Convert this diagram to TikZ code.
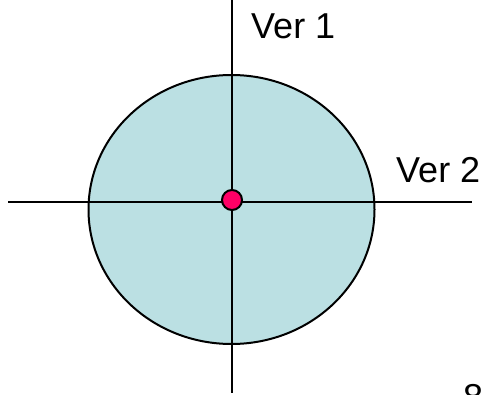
\documentclass[tikz,border=0pt]{standalone}
\usetikzlibrary{shapes.geometric}
\usepackage{fontspec}
\setmainfont{Liberation Sans}
\definecolor{fillblue}{HTML}{BBE0E3}
\definecolor{dotred}{HTML}{FF0066}
\begin{document}
\begin{tikzpicture}[x=1pt,y=-1pt,
  axis/.style={line width=2pt,black},
  lbl/.style={font=\fontsize{36}{40}\selectfont,inner sep=0pt,anchor=base west}]
\useasboundingbox (0,0) rectangle (482,395);
\node[draw=black,line width=2pt,fill=fillblue,ellipse,minimum width=286pt,minimum height=269pt,inner sep=0pt] (disk) at (231.5,209.5) {};
\coordinate (vtop) at (232,0);
\coordinate (vbot) at (232,393);
\coordinate (hl) at (8,202);
\coordinate (hr) at (472,202);
\draw[axis] (vtop) -- (vbot);
\draw[axis] (hl) -- (hr);
\node[circle,draw=black,line width=2pt,fill=dotred,minimum size=20pt,inner sep=0pt] (dot) at (232,200) {};
\node[lbl] (v1) at (251,39) {Ver 1};
\node[lbl] (v2) at (396,183) {Ver 2};
\begin{scope}
\clip (0,0) rectangle (482,395);
\node[lbl] (pg) at (463,409) {8};
\end{scope}
\end{tikzpicture}
\end{document}
